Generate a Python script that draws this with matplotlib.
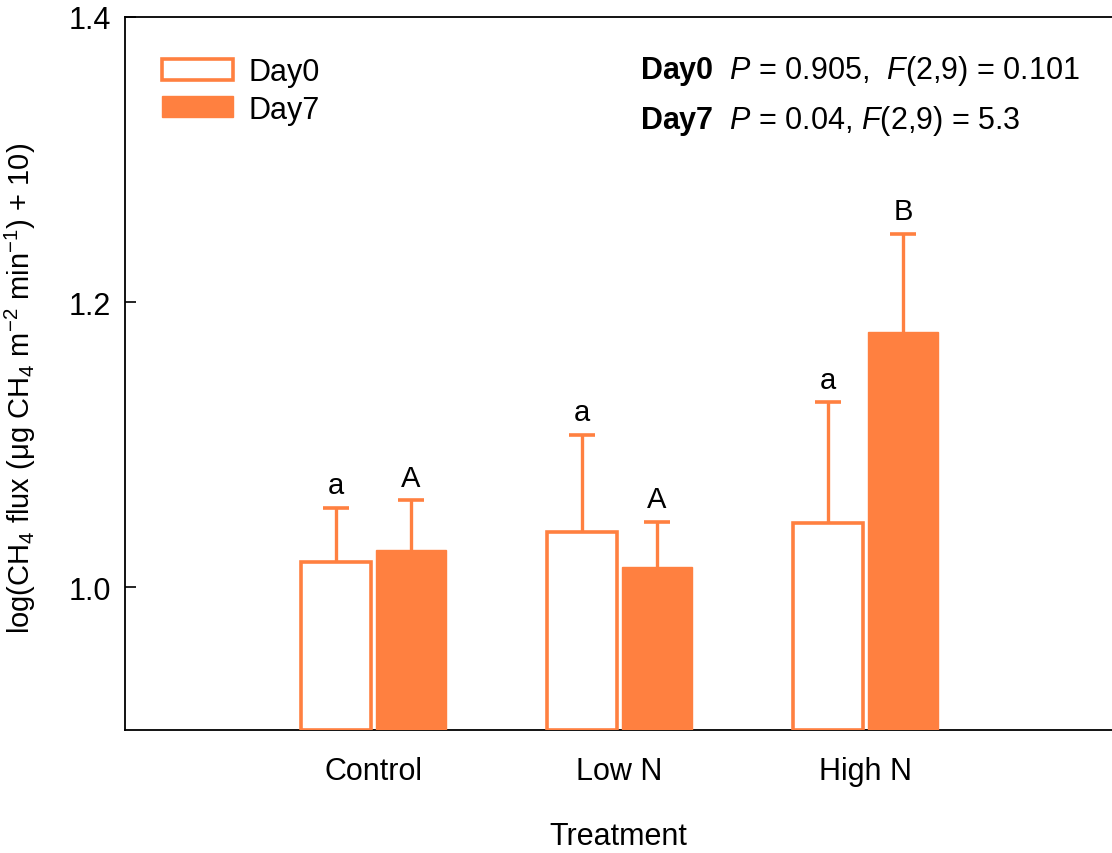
import matplotlib
matplotlib.use("Agg")
import matplotlib.pyplot as plt
import numpy as np

plt.rcParams["font.family"] = ["Liberation Sans", "DejaVu Sans"]
plt.rcParams["mathtext.fontset"] = "custom"
plt.rcParams["mathtext.rm"] = "Liberation Sans"
plt.rcParams["mathtext.it"] = "Liberation Sans:italic"
plt.rcParams["mathtext.bf"] = "Liberation Sans:bold"

# ── Data ──────────────────────────────────────────────────────────────────────
treatments = ["Control", "Low N", "High N"]
day0_mean = [1.018, 1.039, 1.045]
day0_err = [0.038, 0.068, 0.085]
day7_mean = [1.026, 1.014, 1.179]
day7_err = [0.035, 0.032, 0.069]
day0_letters = ["a", "a", "a"]
day7_letters = ["A", "A", "B"]

ORANGE = "#FF8040"
FS = 22

fig = plt.figure(figsize=(11.12, 8.54), dpi=100)
ax = fig.add_axes([0.1124, 0.144, 0.8876, 0.835])

x = np.arange(len(treatments))
w = 0.285
off = 0.152
base = 0.9

ax.bar(x - off, np.array(day0_mean) - base, w, bottom=base,
       facecolor="white", edgecolor=ORANGE, linewidth=2.6, label="Day0", zorder=3)
ax.bar(x + off, np.array(day7_mean) - base, w, bottom=base,
       facecolor=ORANGE, edgecolor=ORANGE, linewidth=1.0, label="Day7", zorder=3)

# one-sided (upper) error bars
for xs, m, e in [(x - off, day0_mean, day0_err), (x + off, day7_mean, day7_err)]:
    top = np.array(m) + np.array(e)
    ax.vlines(xs, m, top, color=ORANGE, linewidth=2.4, zorder=2)
    ax.plot(xs, top, linestyle="none", marker="_", markersize=19,
            markeredgewidth=2.6, color=ORANGE, zorder=2)

for xs, m, e, lab in [(x - off, day0_mean, day0_err, day0_letters),
                      (x + off, day7_mean, day7_err, day7_letters)]:
    for xi, mi, ei, li in zip(xs, m, e, lab):
        ax.annotate(li, (xi, mi + ei), xytext=(0, 6), textcoords="offset points",
                    ha="center", va="bottom", fontsize=21)

ax.set_xlim(-1.008, 3.0)
ax.set_ylim(0.9, 1.4)
ax.set_yticks([1.0, 1.2, 1.4])
ax.set_yticklabels(["1.0", "1.2", "1.4"])
ax.set_xticks(x)
ax.set_xticklabels(treatments)
ax.tick_params(axis="y", direction="in", length=8, width=1.2, pad=10, labelsize=FS)
ax.tick_params(axis="x", length=0, pad=19, labelsize=FS)
for s in ["left", "bottom", "top"]:
    ax.spines[s].set_linewidth(1.3)
ax.spines["right"].set_visible(False)

ax.set_xlabel("Treatment", fontsize=FS, labelpad=25)
ax.set_ylabel(r"log(CH$_4$ flux (μg CH$_4$ m$^{-2}$ min$^{-1}$) + 10)", fontsize=21)
ax.yaxis.set_label_coords(-0.088, 0.481)

ax.legend(loc="upper left", bbox_to_anchor=(0.0375, 0.944), frameon=False, fontsize=FS,
          handlelength=2.33, handleheight=0.69, handletextpad=0.5, labelspacing=0.25,
          borderpad=0, borderaxespad=0)

ax.text(0.522, 0.926, r"$\mathbf{Day0}$  $P$ = 0.905,  $F$(2,9) = 0.101",
        transform=ax.transAxes, fontsize=FS, ha="left", va="center")
ax.text(0.522, 0.855, r"$\mathbf{Day7}$  $P$ = 0.04, $F$(2,9) = 5.3",
        transform=ax.transAxes, fontsize=FS, ha="left", va="center")

fig.savefig("out.png", dpi=100, facecolor="white")
